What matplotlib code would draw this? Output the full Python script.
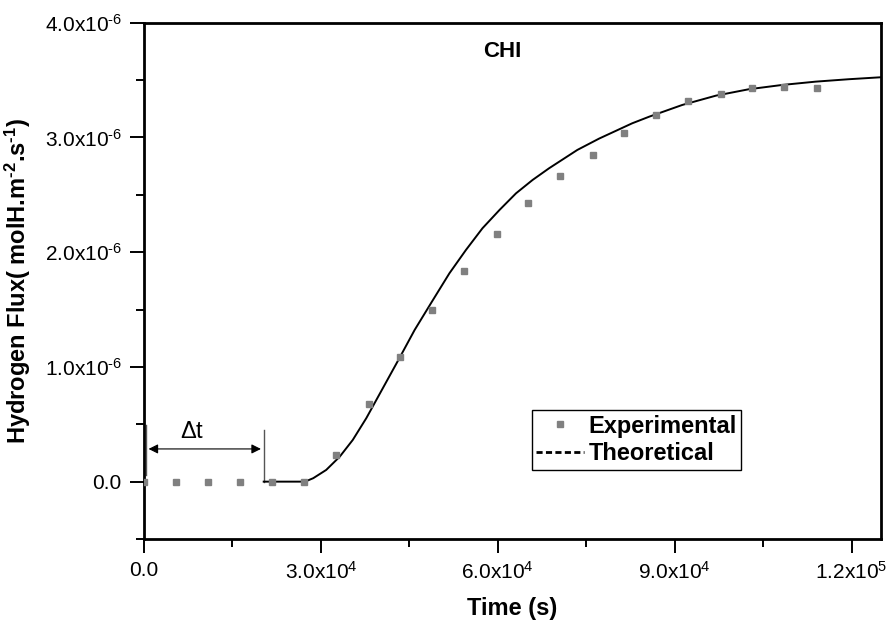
#Flujo de hidrogeno - CHI
import numpy as np
import matplotlib
matplotlib.use('Agg')
import matplotlib.pyplot as plt
from matplotlib.lines import Line2D
from matplotlib.ticker import MultipleLocator, FuncFormatter

plt.rcParams['font.family'] = ['Liberation Sans', 'DejaVu Sans']
plt.rcParams['mathtext.default'] = 'regular'

t_exp = [0, 5400, 10900, 16300, 21700, 27200, 32600, 38100, 43500, 48900, 54300,
         59800, 65200, 70600, 76100, 81400, 86900, 92300, 97800, 103200, 108600, 114100]
j_exp = [0, 0, 0, 0, 0, 0, 0.233, 0.675, 1.089, 1.50, 1.839,
         2.156, 2.429, 2.664, 2.850, 3.036, 3.196, 3.320, 3.376, 3.431, 3.437, 3.431]

#curva teorica
t_teo = [20300, 27300, 28700, 30900, 33200, 35400, 37700, 40500, 43300, 45900, 48800,
         51800, 54600, 57400, 60300, 63100, 65900, 68700, 73500, 77200, 82800, 85700,
         91300, 97000, 102600, 108200, 113900, 119500, 124900]
j_teo = [0, 0, 0.030, 0.102, 0.218, 0.363, 0.553, 0.814, 1.075, 1.322, 1.566,
         1.816, 2.019, 2.208, 2.368, 2.513, 2.629, 2.731, 2.891, 2.990, 3.123, 3.181,
         3.283, 3.364, 3.420, 3.457, 3.486, 3.507, 3.524]

escala = 1e-6  #unidades del eje y

def fmt(v, pos):
    if abs(v) < 1e-15:
        return '0.0'
    e = int(np.floor(np.log10(abs(v))))
    m = v / 10**e
    return '%.1fx10$^{%s}$' % (m, str(e).replace('-', '\u2010'))

fig = plt.figure(figsize=(8.89, 6.28), dpi=100)
ax = fig.add_axes([0.162, 0.1417, 0.829, 0.8222])

ax.plot(t_teo, np.array(j_teo) * escala, color='black', lw=1.4, zorder=3)
ax.plot(t_exp, np.array(j_exp) * escala, ls='none', marker='s', ms=4.6,
        color='#808080', zorder=4)

ax.set_xlim(0, 1.25e5)
ax.set_ylim(-0.5e-6, 4.0e-6)

ax.xaxis.set_major_locator(MultipleLocator(3e4))
ax.xaxis.set_minor_locator(MultipleLocator(1.5e4))
ax.yaxis.set_major_locator(MultipleLocator(1e-6))
ax.yaxis.set_minor_locator(MultipleLocator(0.5e-6))
ax.xaxis.set_major_formatter(FuncFormatter(fmt))
ax.yaxis.set_major_formatter(FuncFormatter(fmt))
ax.tick_params(which='major', direction='out', length=10, width=1.4, labelsize=15, pad=6)
ax.tick_params(which='minor', direction='out', length=6, width=1.4)
for s in ax.spines.values():
    s.set_linewidth(2)

ax.set_xlabel('Time (s)', fontsize=17, fontweight='bold', labelpad=10)
ax.set_ylabel('Hydrogen Flux( molH.m$^{\u20102}$.s$^{\u20101}$)', fontsize=17,
              fontweight='bold', labelpad=8)

ax.text(6.07e4, 3.75e-6, 'CHI', fontsize=16, fontweight='bold', ha='center', va='center')

#anotacion del tiempo de retardo
ax.plot([300, 300], [0.06e-6, 0.49e-6], color='#555555', lw=1)
ax.plot([20300, 20300], [0, 0.45e-6], color='#555555', lw=1)
ax.annotate('', xy=(300, 0.285e-6), xytext=(20300, 0.285e-6),
            arrowprops=dict(arrowstyle='<|-|>', color='black', lw=0.8, mutation_scale=14))
ax.text(8100, 0.43e-6, '$\\Delta$t', fontsize=17, ha='center', va='center')

handles = [Line2D([], [], ls='none', marker='s', ms=4.6, color='#808080'),
           Line2D([], [], color='black', lw=2, ls=(0, (2.2, 1.2)))]
leg = ax.legend(handles, ['Experimental', 'Theoretical'], loc='upper left',
                bbox_to_anchor=(0.526, 0.25), fancybox=False, framealpha=1,
                edgecolor='black', prop={'size': 17, 'weight': 'bold'},
                handlelength=2.0, handletextpad=0.2, borderpad=0.2,
                labelspacing=0.2, borderaxespad=0)
leg.get_frame().set_linewidth(1)

fig.savefig('out.png', dpi=100)
